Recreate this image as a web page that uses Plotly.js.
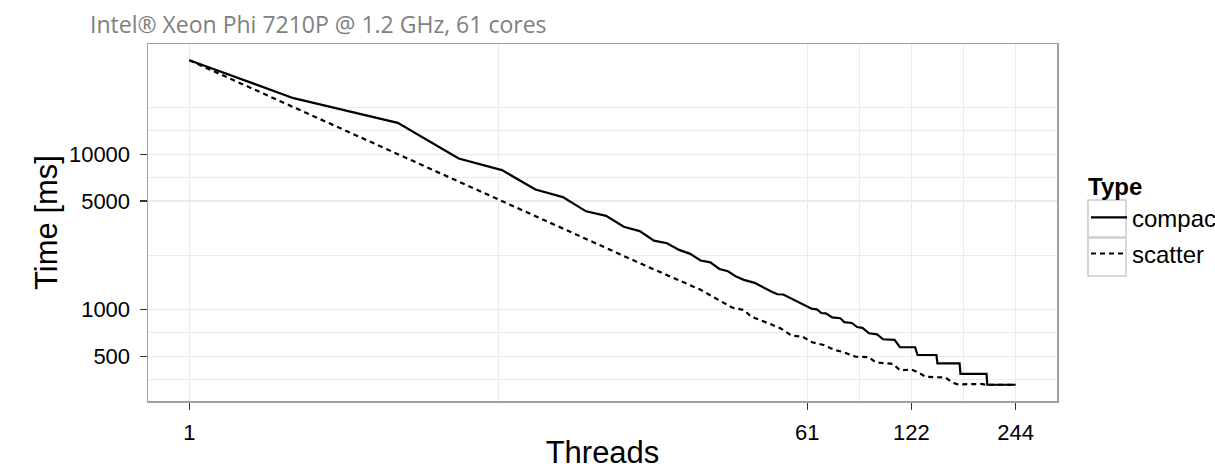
<!DOCTYPE html>
<html><head><meta charset="utf-8">
<script src="https://cdn.plot.ly/plotly-3.0.1.min.js"></script>
<style>html,body{margin:0;padding:0;background:#fff;} #chart{width:1215px;height:470px;}</style>
</head><body><div id="chart"></div>
<script>
// ---- data ----
const seriesNames = ['compact', 'scatter'];
const compactThreads = [1, 2, 4, 6, 8, 10, 12, 14, 16, 18, 20, 22, 24, 26, 28, 30, 32, 34, 36, 38, 40, 43, 48, 50, 52, 57, 60, 63, 65, 67, 69, 72, 76, 78, 82, 85, 88, 92, 97, 101, 109, 113, 125, 127, 144, 145, 168, 169, 201, 202, 244];
const compactTime = [40300, 22960, 15920, 9390, 7909, 5924, 5300, 4290, 4012, 3413, 3200, 2780, 2672, 2422, 2284, 2070, 2013, 1825, 1764, 1630, 1553, 1486, 1306, 1255, 1250, 1126, 1071, 1010, 1004, 950, 945, 890, 880, 830, 820, 772, 762, 704, 693, 644, 638, 572, 572, 510, 510, 451, 451, 385, 385, 328, 328];
const scatterThreads = [1, 8, 20, 30, 37, 40, 42, 47, 51, 55, 59, 63, 68, 73, 77, 84, 92, 96, 108, 113, 122, 128, 134, 153, 160, 166, 194, 201, 244];
const scatterTime = [40300, 4969, 1992, 1340, 1030, 994, 901, 817, 758, 680, 670, 616, 592, 550, 535, 498, 493, 458, 446, 407, 411, 393, 369, 365, 339, 330, 332, 328, 328];
const xTickVals = [1, 61, 122, 244];
const xTickText = ['1', '61', '122', '244'];
const yTickVals = [500, 1000, 5000, 10000];
const yTickText = ['500', '1000', '5000', '10000'];
const xMinorVals = [7.81, 86.3, 172.5];
const yMinorVals = [353.6, 707.1, 2236, 7071, 14142, 20000];
const subtitleText = 'Intel\u00AE Xeon Phi 7210P @ 1.2 GHz, 61 cores';
const legendTitle = 'Type';
const xTitle = 'Threads';
const yTitle = 'Time [ms]';

// ---- ggplot-like 5% expansion of the log ranges ----
function expRange(arrs) {
  const all = [].concat(...arrs).map(v => Math.log10(v));
  const lo = Math.min(...all), hi = Math.max(...all), d = (hi - lo) * 0.05;
  return [lo - d, hi + d];
}
const xr = expRange([compactThreads, scatterThreads]);
const yr = expRange([compactTime, scatterTime]);

const W = 1215, H = 470;
const L = 148, R = 158, T = 44, B = 69;
const pw = W - L - R, ph = H - T - B;
const px = p => (p - L) / pw;
const py = q => (H - B - q) / ph;

const font = 'Liberation Sans, Arial, Helvetica, sans-serif';

const traces = [
  {x: compactThreads, y: compactTime, name: seriesNames[0], type: 'scatter', mode: 'lines',
   line: {color: '#000', width: 2.2}, legendgroup: 'a'},
  {x: scatterThreads, y: scatterTime, name: seriesNames[1], type: 'scatter', mode: 'lines',
   line: {color: '#000', width: 2.2, dash: '5px,4px'}, legendgroup: 'b'}
];

const axisCommon = {
  type: 'log', showline: true, mirror: true, linecolor: '#A0A0A0', linewidth: 1.5,
  ticks: 'outside', ticklen: 7, tickwidth: 1.5, tickcolor: '#333',
  tickmode: 'array', showgrid: true, gridcolor: '#EBEBEB', gridwidth: 1.2,
  zeroline: false, tickfont: {family: font, size: 22, color: '#000'}
};

const layout = {
  width: W, height: H,
  margin: {l: L, r: R, t: T, b: B, autoexpand: false},
  paper_bgcolor: '#fff', plot_bgcolor: '#fff',
  font: {family: font, color: '#000'},
  title: {text: subtitleText, xref: 'container', yref: 'container', x: 90 / W, xanchor: 'left',
          y: 1 - 25 / H, yanchor: 'middle', font: {family: 'Open Sans, sans-serif', size: 23, color: '#7F7F7F'}},
  xaxis: Object.assign({}, axisCommon, {
    range: xr, tickvals: xTickVals, ticktext: xTickText, ticklabelstandoff: 4,
    minor: {tickmode: 'array', tickvals: xMinorVals, showgrid: true, gridcolor: '#EBEBEB', gridwidth: 1, ticklen: 0},
    title: {text: xTitle, font: {family: font, size: 31}, standoff: 5}
  }),
  yaxis: Object.assign({}, axisCommon, {
    range: yr, tickvals: yTickVals, ticktext: yTickText, ticklabelstandoff: 5,
    minor: {tickmode: 'array', tickvals: yMinorVals, showgrid: true, gridcolor: '#EBEBEB', gridwidth: 1, ticklen: 0},
    title: {text: yTitle, font: {family: font, size: 31}, standoff: 2}
  }),
  showlegend: true,
  legend: {
    x: px(1086), xanchor: 'left', y: py(164), yanchor: 'top',
    title: {text: '<b>' + legendTitle + '</b>', font: {family: font, size: 24}},
    font: {family: font, size: 24, color: '#000'},
    bgcolor: 'rgba(0,0,0,0)', borderwidth: 0,
    traceorder: 'grouped', tracegroupgap: 2, itemwidth: 36
  },
  shapes: [
    {type: 'rect', xref: 'paper', yref: 'paper', x0: px(1088), x1: px(1126), y0: py(200), y1: py(237),
     line: {color: '#CCCCCC', width: 1.5}, fillcolor: 'rgba(0,0,0,0)', layer: 'above'},
    {type: 'rect', xref: 'paper', yref: 'paper', x0: px(1088), x1: px(1126), y0: py(238), y1: py(276),
     line: {color: '#CCCCCC', width: 1.5}, fillcolor: 'rgba(0,0,0,0)', layer: 'above'}
  ]
};

Plotly.newPlot('chart', traces, layout, {displayModeBar: false, staticPlot: true});
</script>
</body></html>
